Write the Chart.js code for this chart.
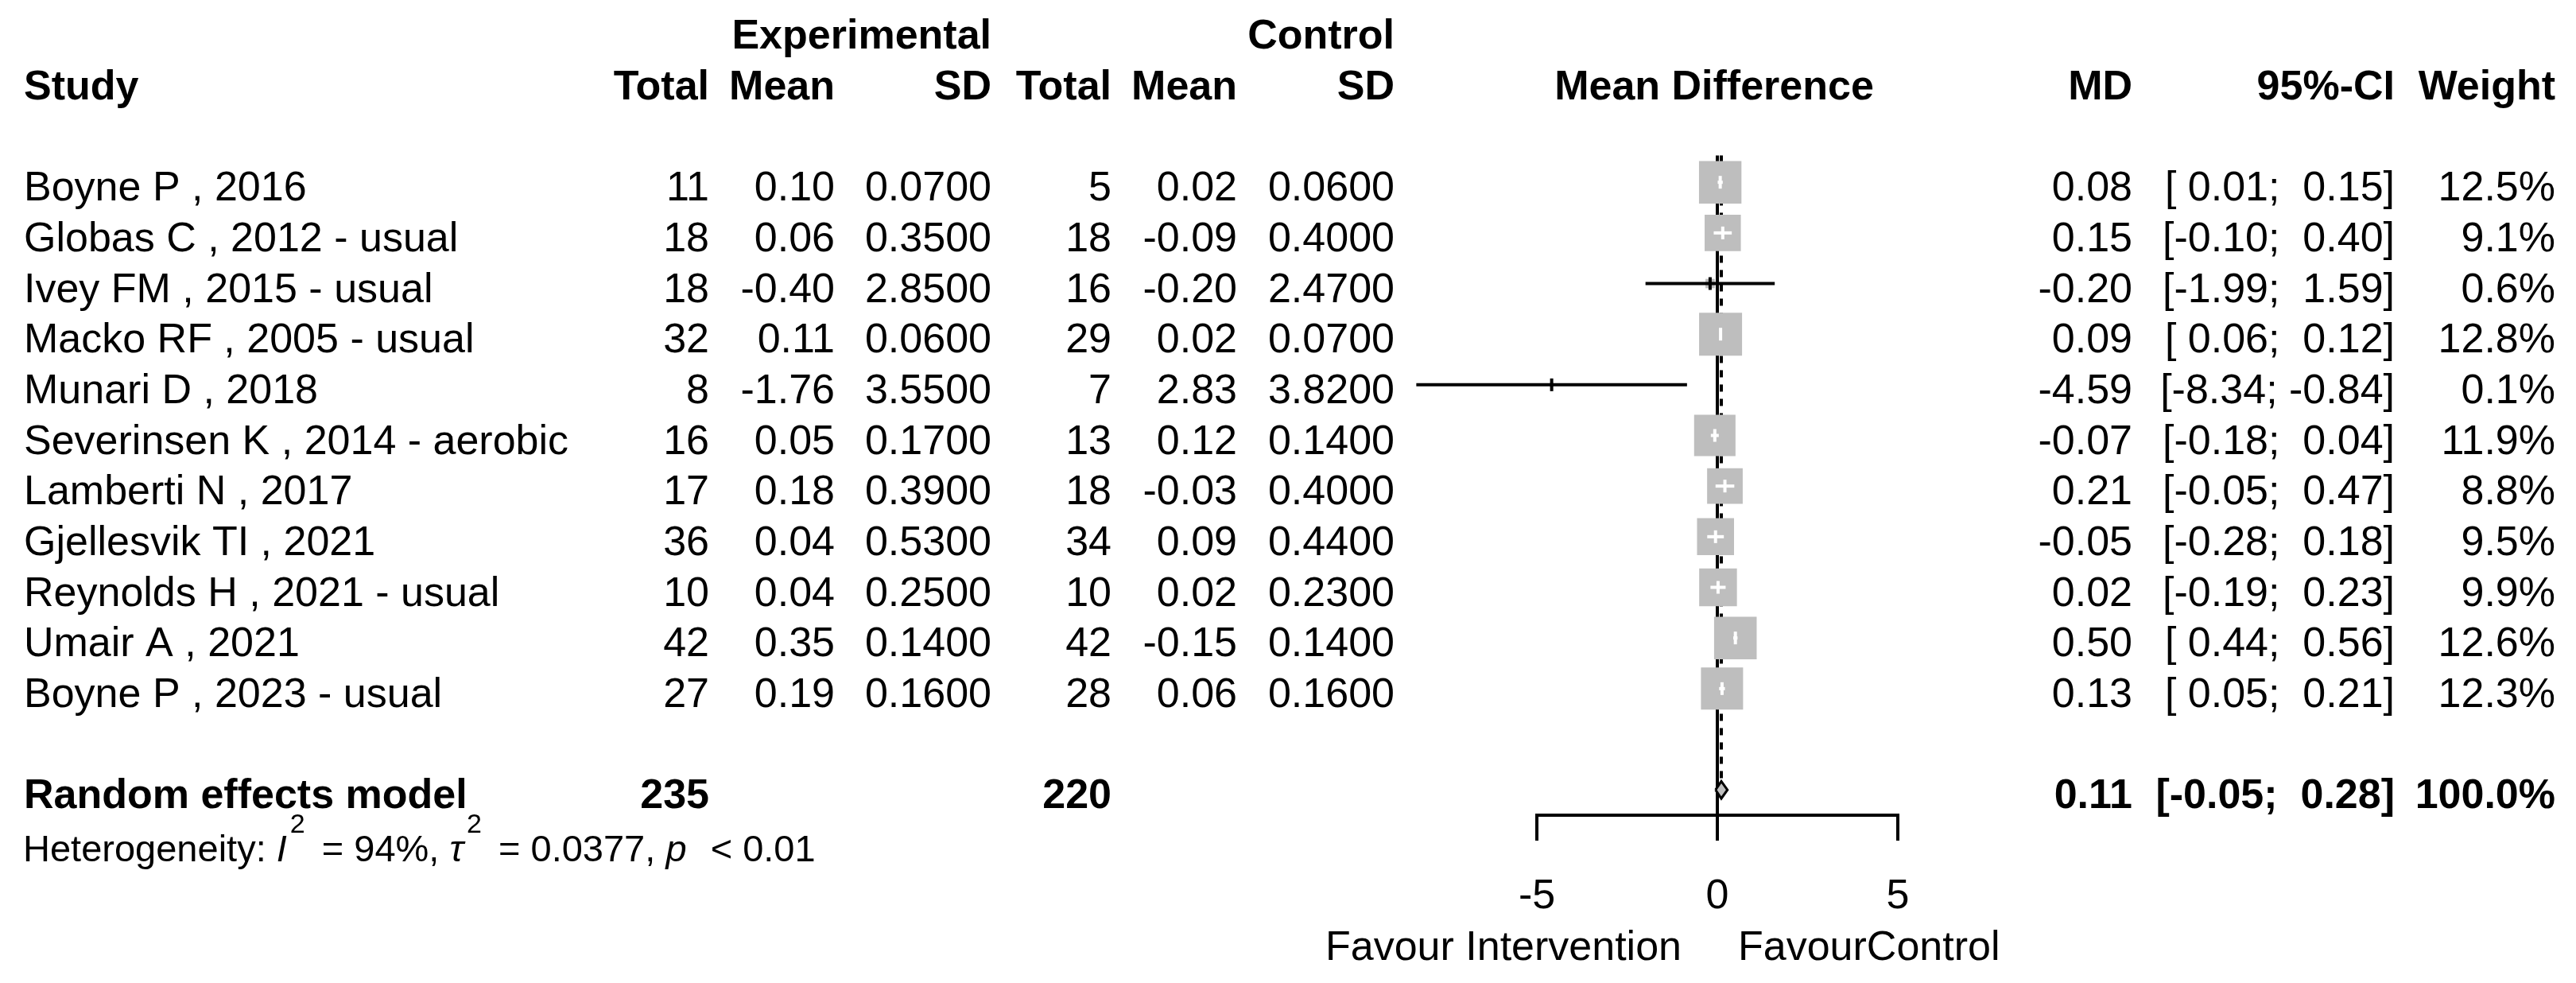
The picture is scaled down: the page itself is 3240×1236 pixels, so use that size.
<!DOCTYPE html>
<html>
<head>
<meta charset="utf-8">
<script src="https://cdn.jsdelivr.net/npm/chart.js@4.4.1/dist/chart.umd.min.js"></script>
<style>
  html, body { margin: 0; padding: 0; background: #fff; overflow: hidden; }
  canvas { display: block; }
</style>
</head>
<body>
<canvas id="forest" width="3240" height="1236"></canvas>
<script>
const studies = [
    'Boyne P , 2016',
    'Globas C , 2012 - usual',
    'Ivey FM , 2015 - usual',
    'Macko RF , 2005 - usual',
    'Munari D , 2018',
    'Severinsen K , 2014 - aerobic',
    'Lamberti N , 2017',
    'Gjellesvik TI , 2021',
    'Reynolds H , 2021 - usual',
    'Umair A , 2021',
    'Boyne P , 2023 - usual'
];
const expTotal = [11, 18, 18, 32, 8, 16, 17, 36, 10, 42, 27];
const expMean = [0.10, 0.06, -0.40, 0.11, -1.76, 0.05, 0.18, 0.04, 0.04, 0.35, 0.19];
const expSD = [0.07, 0.35, 2.85, 0.06, 3.55, 0.17, 0.39, 0.53, 0.25, 0.14, 0.16];
const ctrlTotal = [5, 18, 16, 29, 7, 13, 18, 34, 10, 42, 28];
const ctrlMean = [0.02, -0.09, -0.20, 0.02, 2.83, 0.12, -0.03, 0.09, 0.02, -0.15, 0.06];
const ctrlSD = [0.06, 0.40, 2.47, 0.07, 3.82, 0.14, 0.40, 0.44, 0.23, 0.14, 0.16];
const md = [0.08, 0.15, -0.20, 0.09, -4.59, -0.07, 0.21, -0.05, 0.02, 0.50, 0.13];
const ciLow = [0.01, -0.10, -1.99, 0.06, -8.34, -0.18, -0.05, -0.28, -0.19, 0.44, 0.05];
const ciHigh = [0.15, 0.40, 1.59, 0.12, -0.84, 0.04, 0.47, 0.18, 0.23, 0.56, 0.21];
const weight = [12.5, 9.1, 0.6, 12.8, 0.1, 11.9, 8.8, 9.5, 9.9, 12.6, 12.3];

const pooledTotals = [235, 220];
const pooledMD = 0.11;
const pooledCI = [-0.05, 0.28];
const pooledWeight = 100.0;
const hetI2 = 94;
const hetTau2 = 0.0377;
const hetP = '< 0.01';

const xTicks = [-5, 0, 5];
const labelLeft = 'Favour Intervention';
const labelRight = 'FavourControl';

const FONT = '"Liberation Sans", Arial, sans-serif';
const BOX = 15.1;          // box side in px per sqrt(weight %)
const GREY = '#bebebe';
const COL = {name: 30, expTotal: 892, expMean: 1050, expSD: 1247, ctrlTotal: 1398,
             ctrlMean: 1556, ctrlSD: 1754, md: 2682, ci: 3012, weight: 3214};

const rows = studies.map((s, i) => i + 1);
const pooledRow = studies.length + 2;

function boxSide(i) {
    return BOX * Math.sqrt(weight[i]);
}

// white lines only when the whole CI fits inside the square
function insideBox(chart, i) {
    const xs = chart.scales.x;
    return xs.getPixelForValue(ciHigh[i]) - xs.getPixelForValue(ciLow[i]) <= boxSide(i);
}

function ci(lo, hi) {
    const p = v => (v < 0 ? '' : ' ') + v.toFixed(2);
    return '[' + p(lo) + '; ' + p(hi) + ']';
}

const ciSets = studies.map((s, i) => ({
    data: [{x: ciLow[i], y: rows[i]}, {x: ciHigh[i], y: rows[i]}],
    showLine: true,
    borderWidth: 4,
    borderColor: ctx => insideBox(ctx.chart, i) ? '#fff' : '#000',
    pointRadius: 0,
    clip: false,
    order: 3
}));

const datasets = [
    {   // line of no effect
        data: [{x: 0, y: 0.47}, {x: 0, y: 13.5}],
        showLine: true, borderColor: '#000', borderWidth: 4, pointRadius: 0, order: 10
    },
    {   // random effects estimate
        data: [{x: pooledMD, y: 0.47}, {x: pooledMD, y: pooledRow}],
        showLine: true, borderColor: '#000', borderWidth: 4, borderDash: [9, 9],
        pointRadius: 0, order: 9
    },
    {   // weighted squares
        data: md.map((v, i) => ({x: v, y: rows[i]})),
        pointStyle: 'rect',
        pointRadius: studies.map((s, i) => boxSide(i) / Math.SQRT2),
        pointBackgroundColor: GREY,
        pointBorderWidth: 0,
        order: 5
    },
    ...ciSets,
    {   // point estimate marks
        data: md.map((v, i) => ({x: v, y: rows[i]})),
        pointStyle: 'line',
        rotation: 90,
        pointRadius: 8,
        pointBorderWidth: 4,
        pointBorderColor: ctx => insideBox(ctx.chart, ctx.dataIndex) ? '#fff' : '#000',
        order: 2
    },
    {   // pooled diamond
        data: [
            {x: pooledCI[0], y: pooledRow},
            {x: pooledMD, y: pooledRow - 0.17},
            {x: pooledCI[1], y: pooledRow},
            {x: pooledMD, y: pooledRow + 0.17},
            {x: pooledCI[0], y: pooledRow}
        ],
        showLine: true, fill: 'shape', backgroundColor: GREY,
        borderColor: '#000', borderWidth: 3, pointRadius: 0, order: 1
    }
];

const tableText = {
    id: 'tableText',
    afterDraw(chart) {
        const ctx = chart.ctx;
        const ys = chart.scales.y, xs = chart.scales.x;
        const put = (txt, x, r, align, bold) => {
            ctx.font = (bold ? 'bold ' : '') + '52px ' + FONT;
            ctx.textAlign = align;
            ctx.fillText(txt, x, ys.getPixelForValue(r) + 23);
        };
        ctx.save();
        ctx.fillStyle = '#000';
        ctx.textBaseline = 'alphabetic';

        put('Experimental', COL.expSD, -2, 'right', true);
        put('Control', COL.ctrlSD, -2, 'right', true);
        put('Study', COL.name, -1, 'left', true);
        put('Total', COL.expTotal, -1, 'right', true);
        put('Mean', COL.expMean, -1, 'right', true);
        put('SD', COL.expSD, -1, 'right', true);
        put('Total', COL.ctrlTotal, -1, 'right', true);
        put('Mean', COL.ctrlMean, -1, 'right', true);
        put('SD', COL.ctrlSD, -1, 'right', true);
        put('Mean Difference', xs.getPixelForValue(0) - 4, -1, 'center', true);
        put('MD', COL.md, -1, 'right', true);
        put('95%-CI', COL.ci, -1, 'right', true);
        put('Weight', COL.weight, -1, 'right', true);

        studies.forEach((s, i) => {
            const r = rows[i];
            put(s, COL.name, r, 'left');
            put(String(expTotal[i]), COL.expTotal, r, 'right');
            put(expMean[i].toFixed(2), COL.expMean, r, 'right');
            put(expSD[i].toFixed(4), COL.expSD, r, 'right');
            put(String(ctrlTotal[i]), COL.ctrlTotal, r, 'right');
            put(ctrlMean[i].toFixed(2), COL.ctrlMean, r, 'right');
            put(ctrlSD[i].toFixed(4), COL.ctrlSD, r, 'right');
            put(md[i].toFixed(2), COL.md, r, 'right');
            put(ci(ciLow[i], ciHigh[i]), COL.ci, r, 'right');
            put(weight[i].toFixed(1) + '%', COL.weight, r, 'right');
        });

        put('Random effects model', COL.name, pooledRow, 'left', true);
        put(String(pooledTotals[0]), COL.expTotal, pooledRow, 'right', true);
        put(String(pooledTotals[1]), COL.ctrlTotal, pooledRow, 'right', true);
        put(pooledMD.toFixed(2), COL.md, pooledRow, 'right', true);
        put(ci(pooledCI[0], pooledCI[1]), COL.ci, pooledRow, 'right', true);
        put(pooledWeight.toFixed(1) + '%', COL.weight, pooledRow, 'right', true);

        // heterogeneity line with italics and superscripts
        const base = ys.getPixelForValue(pooledRow + 1) + 26;
        const segs = [
            ['Heterogeneity: ', ''], ['I', 'italic'], ['2', 'sup'],
            [' = ' + hetI2 + '%, ', ''], ['\u03c4', 'italic'], ['2', 'sup'],
            [' = ' + hetTau2.toFixed(4) + ', ', ''], ['p', 'italic'], ['  ' + hetP, '']
        ];
        let x = 29;
        ctx.textAlign = 'left';
        segs.forEach(([t, k]) => {
            if (k === 'sup') {
                ctx.font = '34px ' + FONT;
                ctx.fillText(t, x, base - 36);
                x += ctx.measureText(t).width + 8;
            } else {
                ctx.font = (k === 'italic' ? 'italic ' : '') + '47px ' + FONT;
                ctx.fillText(t, x, base);
                x += ctx.measureText(t).width + (k === 'italic' ? 4 : 0);
            }
        });

        ctx.font = '52px ' + FONT;
        const fy = chart.chartArea.bottom + 182;
        ctx.textAlign = 'right';
        ctx.fillText(labelLeft, xs.getPixelForValue(0) - 45, fy);
        ctx.textAlign = 'left';
        ctx.fillText(labelRight, xs.getPixelForValue(0) + 26, fy);
        ctx.restore();
    }
};

const config = {
    type: 'scatter',
    data: {datasets: datasets},
    options: {
        responsive: false,
        devicePixelRatio: 1,
        animation: false,
        events: [],
        layout: {padding: {left: 1933, right: 853, top: 191, bottom: 39}},
        plugins: {legend: {display: false}, tooltip: {enabled: false}},
        scales: {
            x: {
                type: 'linear',
                min: xTicks[0],
                max: xTicks[xTicks.length - 1],
                afterBuildTicks: s => { s.ticks = xTicks.map(v => ({value: v})); },
                afterFit: s => { s.height = 172; s.paddingLeft = 0; s.paddingRight = 0; },
                grid: {drawOnChartArea: false, color: '#000', lineWidth: 4, tickLength: 32},
                border: {color: '#000', width: 4},
                ticks: {color: '#000', padding: 39, font: {family: FONT, size: 52}, maxRotation: 0}
            },
            y: {
                type: 'linear',
                display: false,
                reverse: true,
                min: 0.4,
                max: 13.5
            }
        }
    },
    plugins: [tableText]
};

const forestChart = new Chart(document.getElementById('forest'), config);
</script>
</body>
</html>
